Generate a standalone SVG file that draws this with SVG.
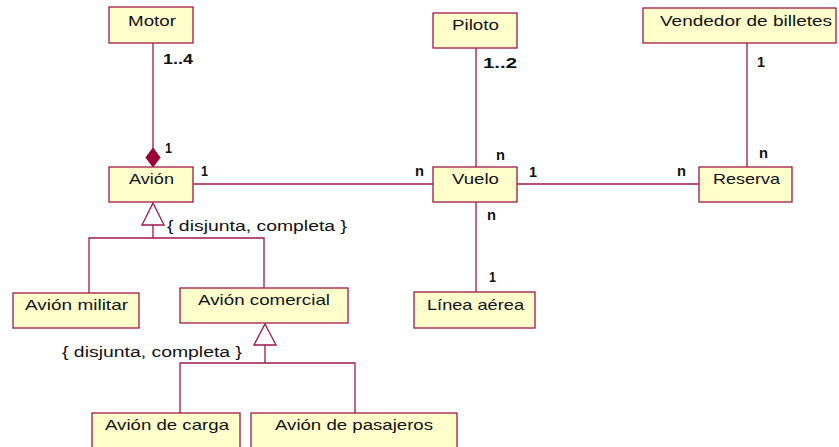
<svg xmlns="http://www.w3.org/2000/svg" width="839" height="447" viewBox="0 0 839 447">
<style>
.box{fill:#ffffcc;stroke:#a0174a;stroke-width:1.3}
.ln{fill:none;stroke:#a0174a;stroke-width:1.3}
.t{font-family:"Liberation Sans",Arial,sans-serif;font-size:14.5px;fill:#111}
.m{font-family:"Liberation Sans",Arial,sans-serif;font-size:14px;font-weight:bold;fill:#111}
.c{font-family:"Liberation Sans",Arial,sans-serif;font-size:14px;fill:#111}
</style>
<rect width="839" height="447" fill="#ffffff"/>
<g id="connectors">
<line class="ln" x1="153" y1="43" x2="153" y2="148"/>
<polygon points="153,148 160,157.5 153,167 146,157.5" fill="#990033" stroke="#990033"/>
<line class="ln" x1="193" y1="184" x2="433" y2="184"/>
<line class="ln" x1="517" y1="184" x2="699" y2="184"/>
<line class="ln" x1="476" y1="48" x2="476" y2="167"/>
<line class="ln" x1="476" y1="202" x2="476" y2="292"/>
<line class="ln" x1="747" y1="43" x2="747" y2="167"/>
<polygon class="ln" points="153,203 164,225 142,225" fill="#ffffff"/>
<polyline class="ln" points="153,225 153,238"/>
<polyline class="ln" points="89,293 89,238 264,238 264,288"/>
<polygon class="ln" points="265,324 276,345 254,345" fill="#ffffff"/>
<polyline class="ln" points="265,345 265,363"/>
<polyline class="ln" points="180,413 180,363 355,363 355,413"/>
<text class="m" x="163" y="64" textLength="30" lengthAdjust="spacingAndGlyphs">1..4</text>
<text class="m" x="165" y="153" textLength="7" lengthAdjust="spacingAndGlyphs">1</text>
<text class="m" x="201" y="176" textLength="7" lengthAdjust="spacingAndGlyphs">1</text>
<text class="m" x="483" y="68" textLength="34" lengthAdjust="spacingAndGlyphs">1..2</text>
<text class="m" x="757" y="67" textLength="8" lengthAdjust="spacingAndGlyphs">1</text>
<text class="m" x="496" y="160" textLength="9" lengthAdjust="spacingAndGlyphs">n</text>
<text class="m" x="415" y="176" textLength="9" lengthAdjust="spacingAndGlyphs">n</text>
<text class="m" x="529" y="177" textLength="8" lengthAdjust="spacingAndGlyphs">1</text>
<text class="m" x="487" y="220" textLength="9" lengthAdjust="spacingAndGlyphs">n</text>
<text class="m" x="759" y="158" textLength="9" lengthAdjust="spacingAndGlyphs">n</text>
<text class="m" x="677" y="176" textLength="9" lengthAdjust="spacingAndGlyphs">n</text>
<text class="m" x="489" y="282" textLength="7" lengthAdjust="spacingAndGlyphs">1</text>
<text class="c" x="167" y="231" textLength="180" lengthAdjust="spacingAndGlyphs">{ disjunta, completa }</text>
<text class="c" x="62" y="357" textLength="180" lengthAdjust="spacingAndGlyphs">{ disjunta, completa }</text>
</g>
<g id="motor"><rect class="box" x="109" y="7" width="84" height="36"/><text class="t" x="128" y="26" textLength="48" lengthAdjust="spacingAndGlyphs">Motor</text></g>
<g id="piloto"><rect class="box" x="433" y="13" width="84" height="35"/><text class="t" x="452" y="30" textLength="47" lengthAdjust="spacingAndGlyphs">Piloto</text></g>
<g id="vendedor"><rect class="box" x="643" y="8" width="193" height="35"/><text class="t" x="660" y="26" textLength="172" lengthAdjust="spacingAndGlyphs">Vendedor de billetes</text></g>
<g id="avion"><rect class="box" x="109" y="167" width="84" height="35"/><text class="t" x="129" y="184" textLength="45" lengthAdjust="spacingAndGlyphs">Avión</text></g>
<g id="vuelo"><rect class="box" x="433" y="167" width="84" height="35"/><text class="t" x="452" y="184" textLength="47" lengthAdjust="spacingAndGlyphs">Vuelo</text></g>
<g id="reserva"><rect class="box" x="699" y="167" width="93" height="35"/><text class="t" x="713" y="184" textLength="67" lengthAdjust="spacingAndGlyphs">Reserva</text></g>
<g id="avion-militar"><rect class="box" x="13" y="293" width="126" height="35"/><text class="t" x="25" y="310" textLength="103" lengthAdjust="spacingAndGlyphs">Avión militar</text></g>
<g id="avion-comercial"><rect class="box" x="180" y="288" width="168" height="35"/><text class="t" x="198" y="305" textLength="132" lengthAdjust="spacingAndGlyphs">Avión comercial</text></g>
<g id="linea-aerea"><rect class="box" x="414" y="292" width="121" height="36"/><text class="t" x="427" y="310" textLength="97" lengthAdjust="spacingAndGlyphs">Línea aérea</text></g>
<g id="avion-carga"><rect class="box" x="92" y="413" width="148" height="45"/><text class="t" x="105" y="430" textLength="124" lengthAdjust="spacingAndGlyphs">Avión de carga</text></g>
<g id="avion-pasajeros"><rect class="box" x="251" y="413" width="206" height="45"/><text class="t" x="275" y="430" textLength="158" lengthAdjust="spacingAndGlyphs">Avión de pasajeros</text></g>
</svg>
